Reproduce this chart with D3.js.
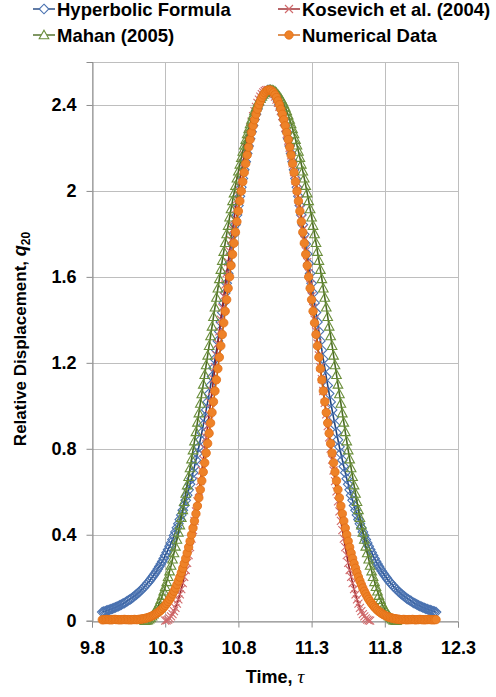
<!DOCTYPE html>
<html><head><meta charset="utf-8">
<script src="https://cdn.jsdelivr.net/npm/d3@7"></script>
<style>
body{margin:0;background:#fff}
svg{display:block}
text{font-family:"Liberation Sans",Arial,sans-serif;font-weight:bold;fill:#000}
</style>
</head><body>
<svg id="chart" width="496" height="697"></svg>
<script>
const xTicks=[9.8,10.3,10.8,11.3,11.8,12.3];
const xTickLabels=["9.8","10.3","10.8","11.3","11.8","12.3"];
const yTicks=[0,0.4,0.8,1.2,1.6,2,2.4];
const yTickLabels=["0","0.4","0.8","1.2","1.6","2","2.4"];
const seriesNames=["Hyperbolic Formula","Kosevich et al. (2004)","Mahan (2005)","Numerical Data"];
const timeStep=0.01;

const hyperbolicStart=9.87;
const hyperbolic=[
0.040,0.042,0.044,0.047,0.049,0.051,0.054,0.056,0.059,0.062,
0.065,0.068,0.071,0.075,0.079,0.082,0.086,0.091,0.095,0.099,
0.104,0.109,0.115,0.120,0.126,0.132,0.138,0.145,0.152,0.159,
0.167,0.175,0.183,0.192,0.201,0.210,0.220,0.230,0.241,0.252,
0.264,0.276,0.289,0.303,0.317,0.331,0.346,0.362,0.378,0.396,
0.413,0.432,0.451,0.471,0.492,0.514,0.536,0.560,0.584,0.609,
0.635,0.661,0.689,0.718,0.747,0.778,0.809,0.842,0.875,0.910,
0.945,0.981,1.018,1.057,1.095,1.135,1.176,1.217,1.259,1.302,
1.346,1.390,1.434,1.479,1.525,1.570,1.616,1.662,1.707,1.753,
1.798,1.843,1.888,1.932,1.975,2.017,2.058,2.098,2.136,2.174,
2.209,2.243,2.275,2.304,2.332,2.357,2.381,2.401,2.419,2.434,
2.447,2.457,2.464,2.469,
2.470,
2.469,2.464,2.457,2.447,2.434,2.419,2.401,2.381,2.357,2.332,
2.304,2.275,2.243,2.209,2.174,2.136,2.098,2.058,2.017,1.975,
1.932,1.888,1.843,1.798,1.753,1.707,1.662,1.616,1.570,1.525,
1.479,1.434,1.390,1.346,1.302,1.259,1.217,1.176,1.135,1.095,
1.057,1.018,0.981,0.945,0.910,0.875,0.842,0.809,0.778,0.747,
0.718,0.689,0.661,0.635,0.609,0.584,0.560,0.536,0.514,0.492,
0.471,0.451,0.432,0.413,0.396,0.378,0.362,0.346,0.331,0.317,
0.303,0.289,0.276,0.264,0.252,0.241,0.230,0.220,0.210,0.201,
0.192,0.183,0.175,0.167,0.159,0.152,0.145,0.138,0.132,0.126,
0.120,0.115,0.109,0.104,0.099,0.095,0.091,0.086,0.082,0.079,
0.075,0.071,0.068,0.065,0.062,0.059,0.056,0.054,0.051,0.049,
0.047,0.044,0.042,0.040];

const kosevichStart=10.30;
const kosevich=[
0.000,0.001,0.005,0.011,0.020,0.031,0.045,0.060,0.079,0.099,
0.122,0.147,0.175,0.204,0.236,0.269,0.305,0.342,0.382,0.422,
0.465,0.509,0.555,0.602,0.650,0.699,0.750,0.801,0.853,0.906,
0.960,1.014,1.069,1.124,1.180,1.235,1.290,1.346,1.401,1.456,
1.510,1.564,1.617,1.669,1.720,1.771,1.820,1.868,1.915,1.961,
2.005,2.048,2.088,2.128,2.165,2.201,2.234,2.266,2.295,2.323,
2.348,2.371,2.391,2.410,2.425,2.439,2.450,2.459,2.465,2.469,
2.470,
2.469,2.465,2.459,2.450,2.439,2.425,2.410,2.391,2.371,2.348,
2.323,2.295,2.266,2.234,2.201,2.165,2.128,2.088,2.048,2.005,
1.961,1.915,1.868,1.820,1.771,1.720,1.669,1.617,1.564,1.510,
1.456,1.401,1.346,1.290,1.235,1.180,1.124,1.069,1.014,0.960,
0.906,0.853,0.801,0.750,0.699,0.650,0.602,0.555,0.509,0.465,
0.422,0.382,0.342,0.305,0.269,0.236,0.204,0.175,0.147,0.122,
0.099,0.079,0.060,0.045,0.031,0.020,0.011,0.005,0.001,0.000];

const mahanStart=10.16;
const mahan=[
0.000,0.001,0.003,0.007,0.013,0.021,0.030,0.040,0.052,0.066,
0.081,0.098,0.117,0.137,0.158,0.181,0.205,0.231,0.257,0.286,
0.315,0.346,0.378,0.411,0.445,0.480,0.516,0.554,0.592,0.631,
0.670,0.711,0.752,0.794,0.836,0.879,0.923,0.966,1.011,1.055,
1.100,1.145,1.190,1.235,1.280,1.325,1.370,1.415,1.459,1.504,
1.547,1.591,1.634,1.676,1.718,1.759,1.800,1.839,1.878,1.916,
1.954,1.990,2.025,2.059,2.092,2.124,2.155,2.184,2.213,2.239,
2.265,2.289,2.312,2.333,2.353,2.372,2.389,2.404,2.418,2.430,
2.440,2.449,2.457,2.463,2.467,2.469,
2.470,
2.469,2.467,2.463,2.457,2.449,2.440,2.430,2.418,2.404,2.389,
2.372,2.353,2.333,2.312,2.289,2.265,2.239,2.213,2.184,2.155,
2.124,2.092,2.059,2.025,1.990,1.954,1.916,1.878,1.839,1.800,
1.759,1.718,1.676,1.634,1.591,1.547,1.504,1.459,1.415,1.370,
1.325,1.280,1.235,1.190,1.145,1.100,1.055,1.011,0.966,0.923,
0.879,0.836,0.794,0.752,0.711,0.670,0.631,0.592,0.554,0.516,
0.480,0.445,0.411,0.378,0.346,0.315,0.286,0.257,0.231,0.205,
0.181,0.158,0.137,0.117,0.098,0.081,0.066,0.052,0.040,0.030,
0.021,0.013,0.007,0.003,0.001,0.000];

const numericalStart=9.87;
const numerical=[
0.004,0.005,0.005,0.006,0.005,0.005,0.004,0.005,0.006,0.006,
0.005,0.005,0.004,0.005,0.005,0.006,0.005,0.005,0.005,0.004,
0.005,0.005,0.006,0.005,0.005,0.006,0.007,0.008,0.009,0.010,
0.012,0.014,0.016,0.019,0.022,0.025,0.029,0.033,0.038,0.043,
0.049,0.056,0.063,0.071,0.080,0.089,0.100,0.111,0.124,0.137,
0.152,0.168,0.185,0.203,0.223,0.244,0.266,0.290,0.315,0.342,
0.370,0.400,0.431,0.464,0.498,0.534,0.572,0.610,0.651,0.692,
0.735,0.780,0.825,0.872,0.920,0.969,1.019,1.069,1.121,1.173,
1.226,1.279,1.332,1.386,1.440,1.494,1.547,1.600,1.653,1.705,
1.757,1.808,1.857,1.906,1.953,1.999,2.043,2.086,2.127,2.167,
2.204,2.239,2.272,2.303,2.331,2.357,2.380,2.401,2.419,2.435,
2.447,2.457,2.464,2.469,
2.470,
2.469,2.464,2.457,2.447,2.435,2.419,2.401,2.380,2.357,2.331,
2.303,2.272,2.239,2.204,2.167,2.127,2.086,2.043,1.999,1.953,
1.906,1.857,1.808,1.757,1.705,1.653,1.600,1.547,1.494,1.440,
1.386,1.332,1.279,1.226,1.173,1.121,1.069,1.019,0.969,0.920,
0.872,0.825,0.780,0.735,0.692,0.651,0.610,0.572,0.534,0.498,
0.464,0.431,0.400,0.370,0.342,0.315,0.290,0.266,0.244,0.223,
0.203,0.185,0.168,0.152,0.137,0.124,0.111,0.100,0.089,0.080,
0.071,0.063,0.056,0.049,0.043,0.038,0.033,0.029,0.025,0.022,
0.019,0.016,0.014,0.012,0.010,0.009,0.008,0.007,0.006,0.005,
0.005,0.006,0.005,0.004,0.005,0.005,0.005,0.006,0.005,0.004,
0.005,0.005,0.006,0.005,0.005,0.004,0.005,0.005,0.006,0.005,
0.005,0.004,0.005,0.005];

const plot={left:92,right:458,top:62,bottom:620.7};
const svg=d3.select("#chart");
const x=d3.scaleLinear().domain([9.8,12.3]).range([plot.left,plot.right]);
const y=d3.scaleLinear().domain([0,2.6]).range([plot.bottom,plot.top]);

const gridColor="#BEBEBE";
const grid=svg.append("g");
grid.selectAll("line.gx").data(xTicks).join("line").attr("class","gx")
  .attr("x1",d=>Math.round(x(d))+0.5).attr("x2",d=>Math.round(x(d))+0.5)
  .attr("y1",plot.top).attr("y2",plot.bottom).attr("stroke",gridColor).attr("stroke-width",1);
grid.selectAll("line.gy").data(yTicks.concat([2.6])).join("line").attr("class","gy")
  .attr("y1",d=>Math.round(y(d))+0.5).attr("y2",d=>Math.round(y(d))+0.5)
  .attr("x1",plot.left).attr("x2",plot.right).attr("stroke",gridColor).attr("stroke-width",1);

const xAxis=d3.axisBottom(x).tickValues(xTicks).tickFormat((d,i)=>xTickLabels[i]).tickSize(6).tickPadding(14);
const yAxis=d3.axisLeft(y).tickValues(yTicks).tickFormat((d,i)=>yTickLabels[i]).tickSize(6).tickPadding(10);
const gx=svg.append("g").attr("transform",`translate(0,${Math.round(y(0))+0.5})`).call(xAxis);
const gy=svg.append("g").attr("transform",`translate(${Math.round(x(9.8))+0.5},0)`).call(yAxis);
[gx,gy].forEach(g=>{
  g.select(".domain").attr("stroke","#8C8C8C");
  g.selectAll(".tick line").attr("stroke","#8C8C8C");
  g.selectAll(".tick text").style("font-size","18px").style("font-weight","bold").attr("fill","#000");
});

const shapes={
  diamond:"M0,-4.8L4.8,0L0,4.8L-4.8,0Z",
  cross:"M-4,-4L4,4M-4,4L4,-4",
  triangle:"M0,-4.8L4.8,3.8L-4.8,3.8Z"
};
const styles=[
  {name:seriesNames[0],start:hyperbolicStart,values:hyperbolic,line:"#1F447E",mk:"#4A72B0",fill:"none",shape:"diamond"},
  {name:seriesNames[1],start:kosevichStart,values:kosevich,line:"#9A2328",mk:"#D06A6C",fill:"none",shape:"cross"},
  {name:seriesNames[2],start:mahanStart,values:mahan,line:"#4A6A22",mk:"#6A8E3A",fill:"none",shape:"triangle"},
  {name:seriesNames[3],start:numericalStart,values:numerical,line:"#D2640C",mk:"#E26E14",fill:"#EE8228",shape:"circle"}
];

function drawMarker(sel,s,legend){
  if(s.shape==="circle"){
    sel.append("circle").attr("r",4.2).attr("fill",s.fill).attr("stroke",s.mk).attr("stroke-width",0.8);
  } else {
    sel.append("path").attr("d",shapes[s.shape]).attr("fill",legend?"#fff":s.fill).attr("stroke",s.mk).attr("stroke-width",1.1);
  }
}

const lineGen=d3.line().x(d=>x(d.t)).y(d=>y(d.v));
styles.forEach(s=>{
  const pts=s.values.map((v,i)=>({t:+(s.start+i*timeStep).toFixed(2),v}));
  const g=svg.append("g");
  g.append("path").datum(pts).attr("d",lineGen).attr("fill","none").attr("stroke",s.line).attr("stroke-width",1.6);
  const m=g.selectAll("g.m").data(pts).join("g").attr("class","m")
    .attr("transform",d=>`translate(${x(d.t)},${y(d.v)})`);
  m.each(function(){drawMarker(d3.select(this),s,false);});
});

const legendPos=[[33,9],[278,9],[33,35],[278,35]];
styles.forEach((s,i)=>{
  const [lx,ly]=legendPos[i];
  const g=svg.append("g").attr("transform",`translate(${lx},${ly})`);
  g.append("line").attr("x1",0).attr("x2",22).attr("y1",0).attr("y2",0).attr("stroke",s.line).attr("stroke-width",1.4);
  drawMarker(g.append("g").attr("transform","translate(11,0)"),s,true);
  g.append("text").attr("x",24).attr("y",6.5).style("font-size","18.5px").text(s.name);
});

svg.append("text").attr("x",(plot.left+plot.right)/2).attr("y",683).attr("text-anchor","middle").style("font-size","18px")
  .call(t=>{t.append("tspan").text("Time, ");t.append("tspan").style("font-family","'Liberation Serif','DejaVu Serif',serif").style("font-style","italic").style("font-weight","normal").style("font-size","19px").text("τ");});
svg.append("text").attr("transform","translate(26,339) rotate(-90)").attr("text-anchor","middle").style("font-size","17px")
  .call(t=>{t.append("tspan").text("Relative Displacement, ");t.append("tspan").style("font-style","italic").style("font-size","18px").text("q");t.append("tspan").attr("dy",4).style("font-size","12px").text("20");});
</script>
</body></html>
